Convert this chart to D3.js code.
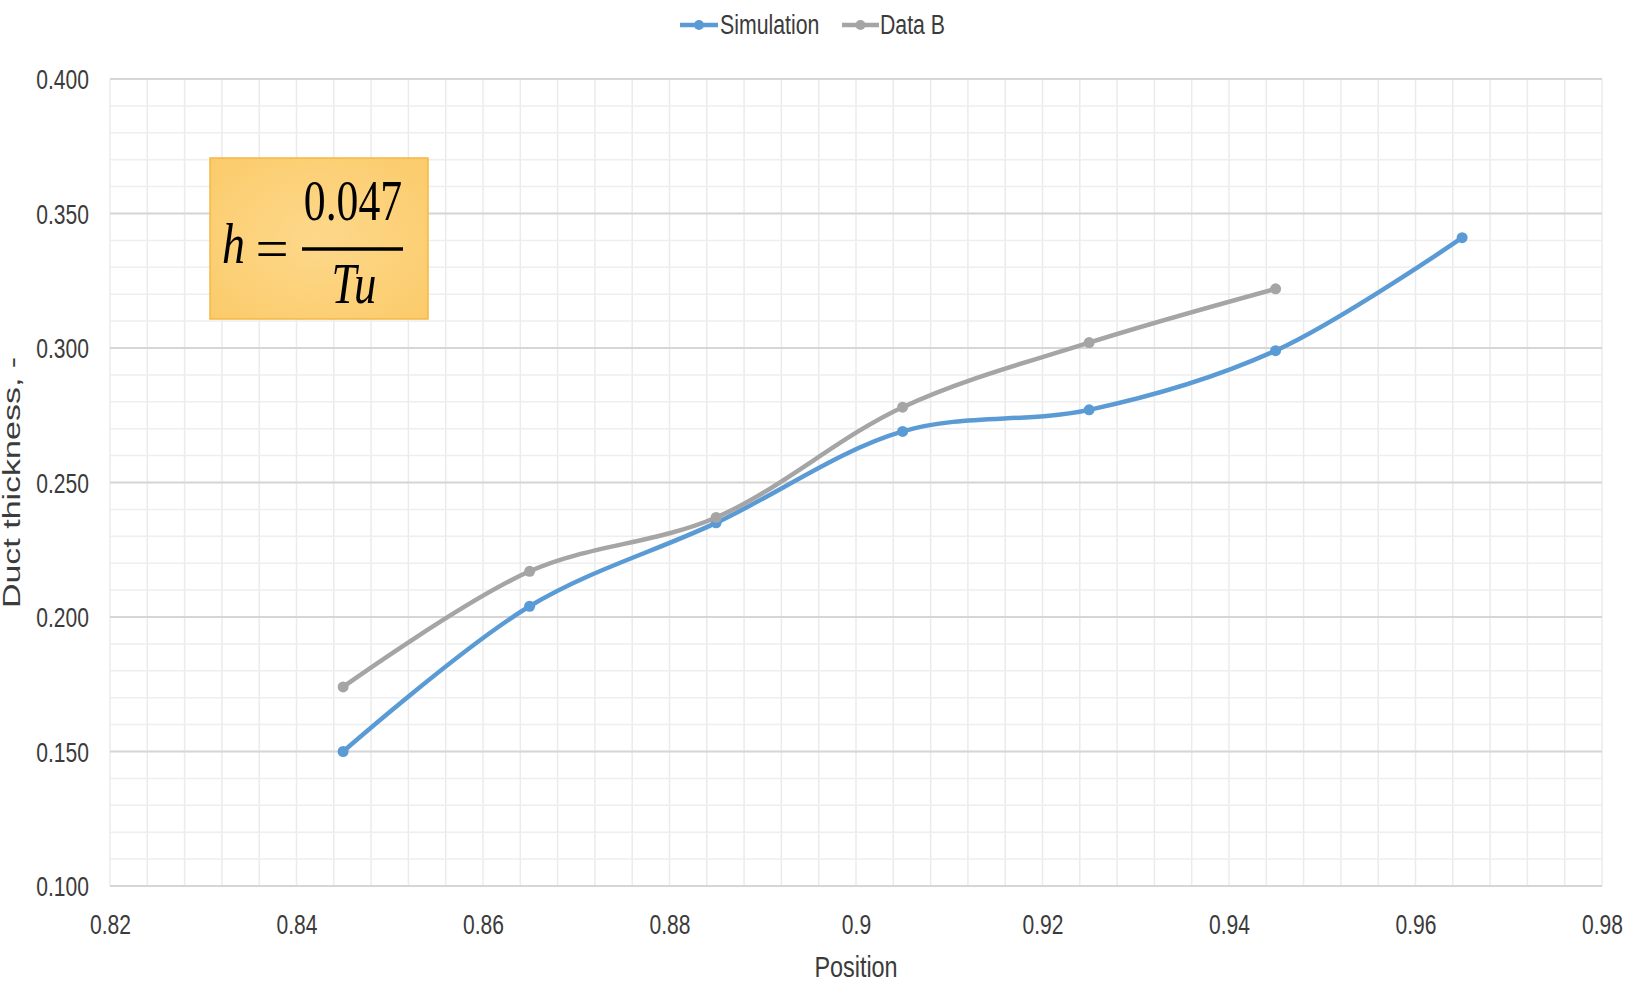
<!DOCTYPE html>
<html>
<head>
<meta charset="utf-8">
<script src="https://cdn.jsdelivr.net/npm/d3@7"></script>
<style>
  html, body { margin: 0; padding: 0; background: #ffffff; }
  svg { display: block; }
  text { font-family: "Liberation Sans", Arial, sans-serif; fill: #3b3b3b; }
  text.formula { font-family: "Liberation Serif", "Times New Roman", serif; fill: #000000; }
</style>
</head>
<body>
<svg id="chart" width="1626" height="987"></svg>
<script>
// ---- data ----
const positions = [0.845, 0.865, 0.885, 0.905, 0.925, 0.945, 0.965];
const simulation = [0.150, 0.204, 0.235, 0.269, 0.277, 0.299, 0.341];
const dataBPositions = [0.845, 0.865, 0.885, 0.905, 0.925, 0.945];
const dataB = [0.174, 0.217, 0.237, 0.278, 0.302, 0.322];

const seriesNames = ["Simulation", "Data B"];
const seriesColors = ["#5b9bd5", "#a5a5a5"];

const xTickValues = [0.82, 0.84, 0.86, 0.88, 0.90, 0.92, 0.94, 0.96, 0.98];
const xTickLabels = ["0.82", "0.84", "0.86", "0.88", "0.9", "0.92", "0.94", "0.96", "0.98"];
const yTickValues = [0.10, 0.15, 0.20, 0.25, 0.30, 0.35, 0.40];
const yTickLabels = ["0.100", "0.150", "0.200", "0.250", "0.300", "0.350", "0.400"];

const xTitle = "Position";
const yTitle = "Duct thickness, -";

// ---- layout ----
const svg = d3.select("#chart");
const plot = { left: 110, right: 1602, top: 79, bottom: 886 };
const squeeze = 0.78; // horizontal condensing of the lettering

const x = d3.scaleLinear().domain([0.82, 0.98]).range([plot.left, plot.right]);
const y = d3.scaleLinear().domain([0.10, 0.40]).range([plot.bottom, plot.top]);

// ---- gridlines ----
const grid = svg.append("g");
const xMinor = d3.range(0, 41).map(i => 0.82 + i * 0.004);
const yMinor = d3.range(0, 31).map(i => 0.10 + i * 0.01);

grid.selectAll("line.vx").data(xMinor).join("line")
  .attr("x1", d => x(d)).attr("x2", d => x(d))
  .attr("y1", plot.top).attr("y2", plot.bottom)
  .attr("stroke", "#ebebeb").attr("stroke-width", 1.5);

grid.selectAll("line.hy").data(yMinor).join("line")
  .attr("x1", plot.left).attr("x2", plot.right)
  .attr("y1", d => y(d)).attr("y2", d => y(d))
  .attr("stroke", "#eeeeee").attr("stroke-width", 1.5);

grid.selectAll("line.major").data(yTickValues).join("line")
  .attr("x1", plot.left).attr("x2", plot.right)
  .attr("y1", d => y(d)).attr("y2", d => y(d))
  .attr("stroke", "#d6d6d6").attr("stroke-width", 2);

// ---- axes ----
const xAxis = svg.append("g")
  .attr("transform", `translate(0,${plot.bottom})`)
  .call(d3.axisBottom(x).tickValues(xTickValues)
    .tickFormat((d, i) => xTickLabels[i]).tickSize(0));
xAxis.select(".domain").remove();
xAxis.selectAll("text")
  .attr("y", 48).attr("dy", 0)
  .attr("font-size", 27)
  .attr("transform", `scale(${squeeze},1)`);

const yAxis = svg.append("g")
  .attr("transform", `translate(${plot.left},0)`)
  .call(d3.axisLeft(y).tickValues(yTickValues)
    .tickFormat((d, i) => yTickLabels[i]).tickSize(0));
yAxis.select(".domain").remove();
yAxis.selectAll("text")
  .attr("x", -21 / squeeze).attr("dy", "0.36em")
  .attr("font-size", 27)
  .attr("transform", `scale(${squeeze},1)`);

// axis titles
svg.append("text")
  .attr("transform", `translate(${(plot.left + plot.right) / 2},977) scale(${squeeze},1)`)
  .attr("text-anchor", "middle")
  .attr("font-size", 30)
  .text(xTitle);

svg.append("text")
  .attr("transform", `translate(20,${(plot.top + plot.bottom) / 2}) rotate(-90) scale(1,0.68)`)
  .attr("text-anchor", "middle")
  .attr("font-size", 34)
  .text(yTitle);

// ---- formula box ----
const defs = svg.append("defs");
const grad = defs.append("radialGradient").attr("id", "boxFill")
  .attr("cx", "50%").attr("cy", "50%").attr("r", "75%");
grad.append("stop").attr("offset", "0%").attr("stop-color", "#fdd88b");
grad.append("stop").attr("offset", "100%").attr("stop-color", "#fbca68");

const box = svg.append("g");
box.append("rect")
  .attr("x", 210).attr("y", 158).attr("width", 218).attr("height", 161)
  .attr("fill", "url(#boxFill)")
  .attr("stroke", "#f3b844").attr("stroke-width", 1.5);

box.append("text").attr("class", "formula")
  .attr("transform", `translate(222,263) scale(0.82,1)`)
  .attr("font-style", "italic")
  .attr("font-size", 56).text("h");
box.append("text").attr("class", "formula")
  .attr("transform", `translate(272,268) scale(1.05,1)`)
  .attr("text-anchor", "middle")
  .attr("font-size", 56).text("=");
box.append("line")
  .attr("x1", 302).attr("x2", 403).attr("y1", 249).attr("y2", 249)
  .attr("stroke", "#000").attr("stroke-width", 3.5);
box.append("text").attr("class", "formula")
  .attr("transform", `translate(353,220) scale(${squeeze},1)`)
  .attr("text-anchor", "middle")
  .attr("font-size", 56).text("0.047");
box.append("text").attr("class", "formula")
  .attr("transform", `translate(354,303) scale(0.8,1)`)
  .attr("text-anchor", "middle")
  .attr("font-style", "italic")
  .attr("font-size", 56).text("Tu");

// ---- series ----
const series = [
  { name: seriesNames[0], color: seriesColors[0], xs: positions, ys: simulation },
  { name: seriesNames[1], color: seriesColors[1], xs: dataBPositions, ys: dataB }
];

const line = d3.line()
  .x(d => x(d[0])).y(d => y(d[1]))
  .curve(d3.curveCatmullRom.alpha(0.5));

series.forEach(s => {
  const pts = s.xs.map((v, i) => [v, s.ys[i]]);
  const g = svg.append("g");
  g.append("path")
    .attr("d", line(pts))
    .attr("fill", "none")
    .attr("stroke", s.color)
    .attr("stroke-width", 4.5)
    .attr("stroke-linecap", "round")
    .attr("stroke-linejoin", "round");
  g.selectAll("circle").data(pts).join("circle")
    .attr("cx", d => x(d[0])).attr("cy", d => y(d[1]))
    .attr("r", 5.5)
    .attr("fill", s.color);
});

// ---- legend ----
const legendItems = [
  { x0: 680, x1: 718, textX: 720 },
  { x0: 842, x1: 879, textX: 880 }
];
const legend = svg.append("g");
series.forEach((s, i) => {
  const L = legendItems[i];
  legend.append("line")
    .attr("x1", L.x0).attr("x2", L.x1).attr("y1", 25).attr("y2", 25)
    .attr("stroke", s.color).attr("stroke-width", 4.5);
  legend.append("circle")
    .attr("cx", (L.x0 + L.x1) / 2).attr("cy", 25).attr("r", 5)
    .attr("fill", s.color);
  legend.append("text")
    .attr("transform", `translate(${L.textX},34) scale(0.76,1)`)
    .attr("font-size", 28)
    .text(s.name);
});
</script>
</body>
</html>
